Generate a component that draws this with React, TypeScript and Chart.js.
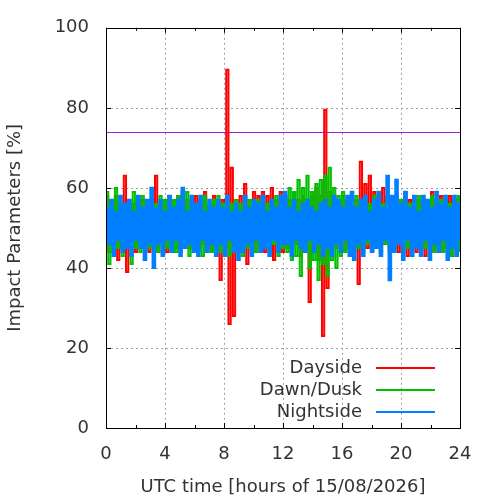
import React, { useEffect, useRef } from "react";
import { Chart, registerables } from "chart.js";

Chart.register(...registerables);

// hours from 0 to 24, one sample per step
const HOURS_START = 0;
const HOURS_END = 24;
const X_TICKS = [0, 4, 8, 12, 16, 20, 24];
const X_MINOR = [2, 6, 10, 14, 18, 22];
const Y_TICKS = [0, 20, 40, 60, 80, 100];
const THRESHOLD = 74;

const dayside = [
  58, 44, 57, 46, 58, 42, 56, 45, 63, 39,
  57, 45, 56, 44, 58, 46, 57, 45, 56, 44,
  57, 45, 63, 44, 56, 46, 57, 44, 58, 45,
  57, 45, 58, 44, 59, 46, 57, 45, 56, 44,
  58, 44, 57, 46, 59, 45, 56, 44, 58, 43,
  56, 37, 57, 45, 89.5, 26, 65, 28, 57, 46,
  58, 44, 61, 41, 57, 45, 59, 44, 58, 46,
  59, 44, 58, 45, 60, 42, 57, 46, 59, 44,
  58, 45, 57, 44, 59, 46, 57, 43, 58, 45,
  57, 31.5, 58, 44, 60, 42, 58, 23, 79.5, 35,
  59, 44, 58, 45, 57, 46, 58, 44, 57, 45,
  58, 45, 57, 36, 66.5, 44, 61, 45, 63, 44,
  59, 45, 58, 44, 60, 46, 58, 44, 57, 45,
  58, 44, 57, 45, 59, 43, 57, 46, 58, 44,
  57, 45, 58, 43, 57, 46, 59, 44, 57, 45,
  58, 44, 57, 45, 58, 43, 57, 46, 58, 45,
];

const dawnDusk = [
  59, 41, 57, 44, 60, 45, 58, 43, 56, 46,
  56, 41, 59, 45, 57, 44, 58, 46, 57, 45,
  57, 45, 56, 44, 58, 46, 57, 45, 56, 44,
  57, 44, 58, 46, 56, 45, 59, 43, 57, 46,
  56, 45, 57, 43, 58, 46, 56, 44, 57, 45,
  58, 44, 56, 46, 57, 43, 56, 45, 57, 46,
  56, 43, 58, 45, 57, 46, 55, 44, 57, 45,
  58, 45, 56, 44, 57, 46, 58, 43, 56, 45,
  58, 44, 60, 42, 59, 43, 62, 38, 60, 44,
  63, 40, 59, 42, 61, 37, 62, 41, 63, 38,
  65, 42, 60, 40, 58, 43, 59, 44, 57, 45,
  57, 44, 58, 45, 56, 43, 57, 46, 56, 44,
  58, 45, 57, 44, 56, 46, 58, 45, 57, 44,
  56, 46, 57, 44, 58, 45, 56, 43, 57, 46,
  58, 44, 57, 45, 56, 46, 58, 44, 57, 45,
  57, 44, 58, 45, 56, 43, 57, 46, 58, 44,
];

const nightside = [
  55, 46, 57, 43, 54, 47, 58, 44, 56, 45,
  57, 43, 54, 47, 58, 45, 55, 42, 57, 46,
  60, 40, 55, 46, 57, 43, 54, 47, 58, 44,
  55, 47, 57, 43, 60, 45, 54, 46, 58, 44,
  56, 43, 58, 47, 54, 44, 57, 46, 55, 43,
  57, 46, 55, 43, 58, 47, 54, 44, 56, 42,
  54, 44, 58, 46, 55, 43, 57, 47, 56, 44,
  58, 45, 54, 43, 57, 47, 55, 44, 58, 46,
  59, 46, 55, 43, 57, 47, 54, 45, 56, 44,
  57, 47, 55, 44, 54, 46, 56, 43, 57, 45,
  55, 43, 58, 46, 57, 44, 55, 47, 58, 43,
  59, 42, 55, 46, 57, 43, 58, 47, 54, 44,
  57, 45, 59, 43, 55, 47, 63, 37, 58, 44,
  62, 46, 56, 42, 59, 47, 55, 43, 58, 45,
  54, 43, 58, 47, 57, 42, 55, 46, 59, 44,
  56, 47, 58, 42, 55, 45, 58, 43, 56, 47,
];

const SERIES_NAMES = ["Dayside", "Dawn/Dusk", "Nightside"];
const SERIES_COLORS = ["#ff0000", "#00c000", "#0080ff"];
const SERIES_WIDTHS = [2, 2, 2.4];

const FONT = "'DejaVu Sans', sans-serif";
const TEXT = "#333333";

function toPoints(values: number[]) {
  const n = values.length;
  return values.map((y, i) => ({
    x: HOURS_START + ((HOURS_END - HOURS_START) * i) / (n - 1),
    y,
  }));
}

const framePlugin = {
  id: "gnuframe",
  beforeDatasetsDraw(chart: any) {
    const { ctx, chartArea: a, scales } = chart;
    const xs = scales.x;
    const ys = scales.y;
    ctx.save();
    ctx.strokeStyle = "#a0a0a0";
    ctx.lineWidth = 1;
    ctx.setLineDash([2, 3]);
    X_TICKS.slice(1, -1).forEach((v) => {
      const px = Math.round(xs.getPixelForValue(v)) + 0.5;
      ctx.beginPath();
      ctx.moveTo(px, a.top);
      ctx.lineTo(px, a.bottom);
      ctx.stroke();
    });
    Y_TICKS.slice(1, -1).forEach((v) => {
      const py = Math.round(ys.getPixelForValue(v)) + 0.5;
      ctx.beginPath();
      ctx.moveTo(a.left, py);
      ctx.lineTo(a.right, py);
      ctx.stroke();
    });
    // threshold line
    ctx.setLineDash([]);
    ctx.strokeStyle = "#9a1ee6";
    const ty = Math.round(ys.getPixelForValue(THRESHOLD)) + 0.5;
    ctx.beginPath();
    ctx.moveTo(a.left, ty);
    ctx.lineTo(a.right, ty);
    ctx.stroke();
    ctx.restore();
  },
  afterDatasetsDraw(chart: any) {
    const { ctx, chartArea: a, scales } = chart;
    const xs = scales.x;
    const ys = scales.y;
    ctx.save();
    ctx.strokeStyle = "#000";
    ctx.lineWidth = 1;
    ctx.setLineDash([]);
    // ticks
    ctx.beginPath();
    X_TICKS.forEach((v) => {
      const px = Math.round(xs.getPixelForValue(v)) + 0.5;
      ctx.moveTo(px, a.bottom);
      ctx.lineTo(px, a.bottom - 5);
      ctx.moveTo(px, a.top);
      ctx.lineTo(px, a.top + 5);
    });
    X_MINOR.forEach((v) => {
      const px = Math.round(xs.getPixelForValue(v)) + 0.5;
      ctx.moveTo(px, a.bottom);
      ctx.lineTo(px, a.bottom - 3);
      ctx.moveTo(px, a.top);
      ctx.lineTo(px, a.top + 3);
    });
    Y_TICKS.forEach((v) => {
      const py = Math.round(ys.getPixelForValue(v)) + 0.5;
      ctx.moveTo(a.left, py);
      ctx.lineTo(a.left + 5, py);
      ctx.moveTo(a.right, py);
      ctx.lineTo(a.right - 5, py);
    });
    ctx.stroke();
    ctx.strokeRect(
      Math.round(a.left) + 0.5,
      Math.round(a.top) + 0.5,
      Math.round(a.right - a.left),
      Math.round(a.bottom - a.top)
    );
    // legend
    ctx.font = `18px ${FONT}`;
    ctx.textAlign = "right";
    ctx.textBaseline = "middle";
    const rows = [368, 390, 412];
    SERIES_NAMES.forEach((name, i) => {
      const y = a.bottom - (428 - rows[i]);
      ctx.fillStyle = TEXT;
      ctx.fillText(name, a.right - 98, y);
      ctx.strokeStyle = SERIES_COLORS[i];
      ctx.lineWidth = 2;
      ctx.beginPath();
      ctx.moveTo(a.right - 84, y);
      ctx.lineTo(a.right - 25, y);
      ctx.stroke();
    });
    ctx.restore();
  },
};

export default function App() {
  const ref = useRef<HTMLCanvasElement | null>(null);

  useEffect(() => {
    document.body.style.margin = "0";
    const canvas = ref.current;
    if (!canvas) return;
    const mk = (i: number, values: number[], order: number) => ({
      label: SERIES_NAMES[i],
      data: toPoints(values),
      borderColor: SERIES_COLORS[i],
      borderWidth: SERIES_WIDTHS[i],
      pointRadius: 0,
      stepped: true,
      order,
    });
    const datasets: any[] = [
      mk(0, dayside, 3),
      mk(1, dawnDusk, 2),
      mk(2, nightside, 1),
    ];
    const chart = new Chart(canvas, {
      type: "line",
      data: { datasets },
      plugins: [framePlugin],
      options: {
        animation: false,
        responsive: false,
        devicePixelRatio: 1,
        layout: { padding: { top: 27, right: 40, left: 0, bottom: 0 } },
        plugins: { legend: { display: false }, tooltip: { enabled: false } },
        elements: { line: { tension: 0, borderJoinStyle: "miter" } },
        scales: {
          x: {
            type: "linear",
            min: 0,
            max: 24,
            grid: { display: false, drawTicks: false },
            border: { display: false },
            ticks: {
              stepSize: 4,
              color: TEXT,
              font: { family: FONT, size: 18 },
              padding: 16,
              maxRotation: 0,
            },
            title: {
              display: true,
              text: "UTC time [hours of 15/08/2026]",
              color: TEXT,
              font: { family: FONT, size: 18 },
              padding: { top: 0, bottom: 2 },
            },
            afterFit(scale: any) {
              scale.height = 72;
            },
          },
          y: {
            type: "linear",
            min: 0,
            max: 100,
            grid: { display: false, drawTicks: false },
            border: { display: false },
            ticks: {
              stepSize: 20,
              color: TEXT,
              font: { family: FONT, size: 18 },
              padding: 17,
            },
            title: {
              display: true,
              text: "Impact Parameters [%]",
              color: TEXT,
              font: { family: FONT, size: 18 },
              padding: { top: 5, bottom: 0 },
            },
            afterFit(scale: any) {
              scale.width = 106;
            },
          },
        },
      },
    });
    return () => chart.destroy();
  }, []);

  return (
    <div style={{ position: "absolute", left: 0, top: 0, width: 500, height: 500, background: "#fff" }}>
      <canvas ref={ref} width={500} height={500} />
    </div>
  );
}
